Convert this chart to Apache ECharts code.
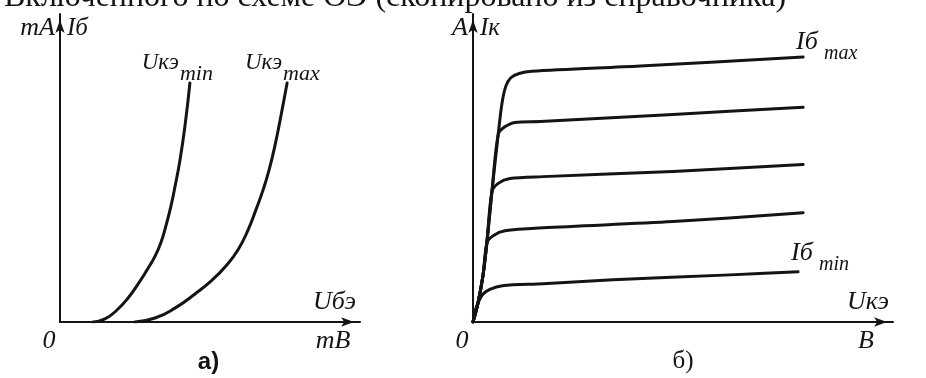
<!DOCTYPE html>
<html>
<head>
<meta charset="utf-8">
<script src="https://cdn.jsdelivr.net/npm/echarts@6/dist/echarts.min.js"></script>
<style>
  html, body { margin: 0; padding: 0; background: #ffffff; }
  #chart { width: 926px; height: 378px; }
</style>
</head>
<body>
<div id="chart"></div>
<script>
// Input characteristics: base current Iб vs base–emitter voltage Uбэ (relative units)
const inputUceMin = [[11, 0], [15, 1], [19, 3.9], [22.7, 7.8], [26, 12.3], [29, 16.9], [31.7, 21.4], [33.7, 26], [35.3, 31.2], [37, 37.7], [38.3, 43.8], [40, 52.6], [41.7, 64], [43.3, 77.6]];
const inputUceMax = [[25, 0], [31.7, 1.3], [38.3, 4.5], [45, 9.1], [50.7, 13.6], [55.3, 18.2], [59.3, 23.4], [62.7, 29.9], [65.3, 36.4], [67.7, 42.9], [69.7, 49.4], [71.7, 57.5], [73.7, 67.2], [75.7, 77.6]];

// Output characteristics: collector current Iк vs collector–emitter voltage Uкэ, one curve per base current
const outputIb1 = [[0, 0], [0.6, 4], [1.2, 6.2], [2.2, 8.8], [4, 10.6], [7, 11.8], [16.7, 12.4], [33.3, 13.7], [61.2, 15.3], [77.4, 16.3]];
const outputIb2 = [[0, 0], [1.2, 6.2], [2.4, 15.3], [3.3, 25.7], [4.8, 28], [7.6, 29.6], [16.7, 30.6], [47.6, 32.6], [78.6, 35.5]];
const outputIb3 = [[0, 0], [1.2, 6.2], [2.4, 15.3], [3.3, 25.7], [4.5, 42.3], [6, 45], [8.8, 46.6], [16.7, 47.2], [47.6, 48.9], [78.6, 51.1]];
const outputIb4 = [[0, 0], [1.2, 6.2], [2.4, 15.3], [3.3, 25.7], [4.5, 42.3], [6, 60.9], [7.4, 63.2], [10, 64.8], [16, 65.1], [47.6, 67.4], [78.6, 69.7]];
const outputIb5 = [[0, 0], [1.2, 6.2], [2.4, 15.3], [3.3, 25.7], [4.5, 42.3], [6, 60.9], [6.9, 71], [7.8, 76.5], [9, 79.3], [11, 80.7], [14, 81.4], [39.8, 83.1], [78.6, 86]];

// Axis ranges
const axisMin = 0;
const axisMax = 100;

// Texts
const headingText = 'Включенного по схеме ОЭ (скопировано из справочника)';
const inputAxisTexts = { yUnit: 'mA', yName: 'Iб', xName: 'Uбэ', xUnit: 'mB', origin: '0', caption: 'а)' };
const outputAxisTexts = { yUnit: 'A', yName: 'Iк', xName: 'Uкэ', xUnit: 'B', origin: '0', caption: 'б)' };
const inputCurveNames = ['Uкэ', 'Uкэ'];
const inputCurveSubs = ['min', 'max'];
const outputCurveName = 'Iб';
const outputCurveSubs = ['min', 'max'];

const INK = '#141414';
const SERIF_IT = 'italic {s}px "Liberation Serif", "DejaVu Serif", serif';
const font = (size) => SERIF_IT.replace('{s}', size);

const chart = echarts.init(document.getElementById('chart'), null, { renderer: 'canvas' });

function valueAxis(gridIndex) {
  return {
    type: 'value', gridIndex: gridIndex, min: axisMin, max: axisMax,
    axisLine: {
      show: true, onZero: false,
      lineStyle: { color: INK, width: 2 },
      symbol: ['none', 'arrow'], symbolSize: [7, 13], symbolOffset: [0, -6]
    },
    axisTick: { show: false }, axisLabel: { show: false }, splitLine: { show: false }
  };
}

function curve(data, xi, smooth) {
  return {
    type: 'line', xAxisIndex: xi, yAxisIndex: xi, data: data,
    showSymbol: false, smooth: smooth, silent: true,
    lineStyle: { color: INK, width: 3, cap: 'round', join: 'round' }
  };
}

chart.setOption({
  animation: false,
  backgroundColor: '#ffffff',
  grid: [
    { left: 60, top: 14, width: 300, height: 308 },
    { left: 473, top: 14, width: 420, height: 308 }
  ],
  xAxis: [valueAxis(0), valueAxis(1)],
  yAxis: [valueAxis(0), valueAxis(1)],
  series: [
    curve(inputUceMin, 0, 0.5), curve(inputUceMax, 0, 0.5),
    curve(outputIb1, 1, 0.3), curve(outputIb2, 1, 0.3), curve(outputIb3, 1, 0.3), curve(outputIb4, 1, 0.3), curve(outputIb5, 1, 0.3)
  ]
});

// Text annotations placed relative to axes and curve ends
const px = (g, v) => chart.convertToPixel({ gridIndex: g }, v);
function txt(text, x, y, f, align, valign) {
  return {
    type: 'text', silent: true,
    style: { text: text, x: x, y: y, font: f, fill: INK, align: align || 'left', verticalAlign: valign || 'middle' }
  };
}

const graphics = [];
// Caption line running off the top edge
graphics.push(txt(headingText, 4, -2, '32px "Liberation Serif", serif', 'left', 'middle'));

function axisTexts(g, t) {
  const o = px(g, [axisMin, axisMin]);
  const xEnd = px(g, [axisMax, axisMin]);
  const yEnd = px(g, [axisMin, axisMax]);
  graphics.push(txt(t.yUnit, o[0] - 5, yEnd[1] + 14, font(26), 'right'));
  graphics.push(txt(t.yName, o[0] + 7, yEnd[1] + 14, font(25), 'left'));
  graphics.push(txt(t.xName, xEnd[0] - 4, o[1] - 20, font(26), 'right'));
  graphics.push(txt(t.xUnit, xEnd[0] - 27, o[1] + 19, font(26), 'center'));
  graphics.push(txt(t.origin, o[0] - 11, o[1] + 19, font(26), 'center'));
}
axisTexts(0, inputAxisTexts);
axisTexts(1, outputAxisTexts);

// Panel captions
const capA = px(0, [49.5, axisMin]);
graphics.push(txt(inputAxisTexts.caption, capA[0], capA[1] + 40, 'bold 24px "Liberation Sans", Arial, sans-serif', 'center'));
const capB = px(1, [50, axisMin]);
graphics.push(txt(outputAxisTexts.caption, capB[0], capB[1] + 39, '25px "Liberation Serif", serif', 'center'));

// Curve labels on the input panel
[inputUceMin, inputUceMax].forEach(function (d, i) {
  const e = px(0, d[d.length - 1]);
  const shift = i === 0 ? -10 : -4;
  graphics.push(txt(inputCurveNames[i], e[0] + shift - 1, e[1] - 20, font(23), 'right'));
  graphics.push(txt(inputCurveSubs[i], e[0] + shift, e[1] - 9, font(22), 'left'));
});

// Curve labels on the output panel
[[outputIb1, 0], [outputIb5, 1]].forEach(function (p) {
  const d = p[0], i = p[1];
  const e = px(1, d[d.length - 1]);
  const dy = i === 0 ? -19 : -15;
  graphics.push(txt(outputCurveName, e[0] - 7, e[1] + dy, font(26), 'left'));
  graphics.push(txt(outputCurveSubs[i], e[0] + 21, e[1] + dy + 12, font(20), 'left'));
});

chart.setOption({ graphic: graphics });
</script>
</body>
</html>
